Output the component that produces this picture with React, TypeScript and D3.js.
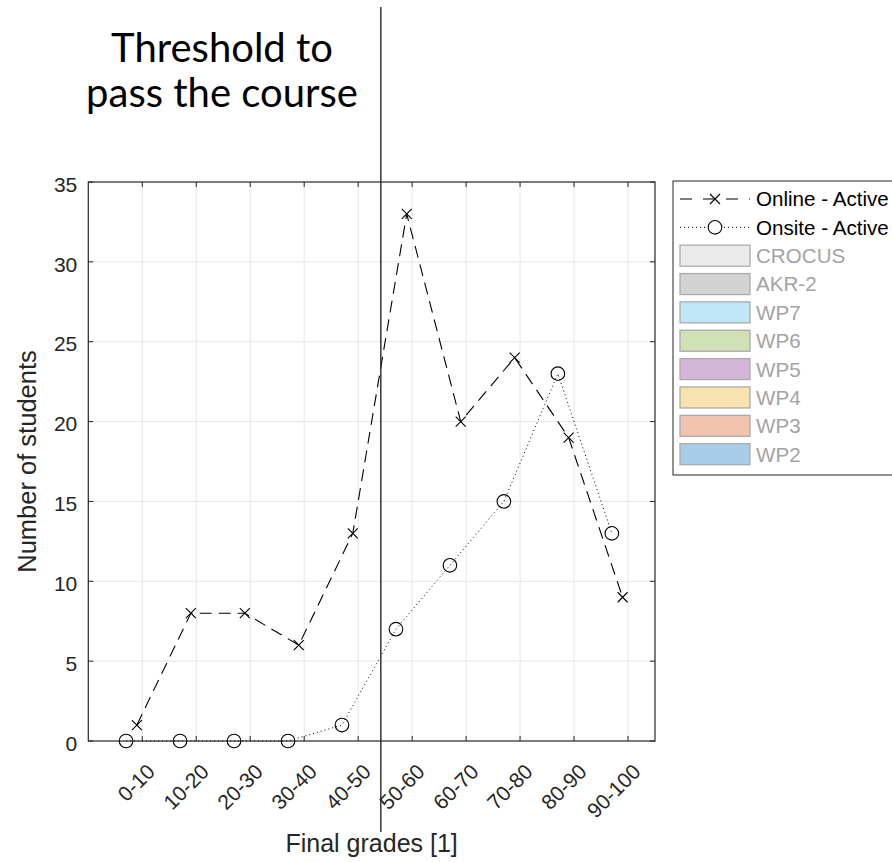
import React from 'react';
import * as d3 from 'd3';

const categories = ['0-10', '10-20', '20-30', '30-40', '40-50', '50-60', '60-70', '70-80', '80-90', '90-100'];
const onlineActive = [1, 8, 8, 6, 13, 33, 20, 24, 19, 9];
const onsiteActive = [0, 0, 0, 0, 1, 7, 11, 15, 23, 13];
const yTicks = [0, 5, 10, 15, 20, 25, 30, 35];
const lineSeriesNames = ['Online - Active', 'Onsite - Active'];
const patchNames = ['CROCUS', 'AKR-2', 'WP7', 'WP6', 'WP5', 'WP4', 'WP3', 'WP2'];
const patchColors = ['#ebebeb', '#d3d3d3', '#c0e7f8', '#d0e2b5', '#d3b6d8', '#f8e2b0', '#f2c3ad', '#a7cde8'];
const titleLines = ['Threshold to', 'pass the course'];
const thresholdValue = 5.42;
const onlineShift = -0.1;
const onsiteShift = -0.3;
const xLabel = 'Final grades [1]';
const yLabel = 'Number of students';

const W = 892;
const H = 862;
const M = { left: 88.3, right: 655, top: 182, bottom: 741 };
const AX = '#262626';
const FONT = '"Liberation Sans", Arial, Helvetica, sans-serif';

export default function App() {
  const x = d3.scaleLinear().domain([0, categories.length + 0.5]).range([M.left, M.right]);
  const y = d3.scaleLinear().domain([0, 35]).range([M.bottom, M.top]);
  const xTickVals = categories.map((_, i) => i + 1);

  const onlinePts: [number, number][] = onlineActive.map((v, i) => [x(i + 1 + onlineShift), y(v)]);
  const onsitePts: [number, number][] = onsiteActive.map((v, i) => [x(i + 1 + onsiteShift), y(v)]);
  const line = d3.line<[number, number]>().x(d => d[0]).y(d => d[1]);

  const cross = (cx: number, cy: number, s: number, key: any) => (
    <path key={key} d={`M${cx - s},${cy - s}L${cx + s},${cy + s}M${cx - s},${cy + s}L${cx + s},${cy - s}`} stroke="#000" strokeWidth={1.1} fill="none" />
  );

  const legX = 673;
  const legTop = 181;
  const rowH = 28.35;
  const row0 = 199;
  const sampleX0 = 680;
  const sampleX1 = 750;
  const textX = 756;

  return (
    <svg width={W} height={H} style={{ position: 'absolute', left: 0, top: 0, background: '#fff' }} fontFamily={FONT}>
      <rect x={0} y={0} width={W} height={H} fill="#fff" />
      {/* grid */}
      {xTickVals.map(v => (
        <line key={'gx' + v} x1={x(v)} x2={x(v)} y1={M.top} y2={M.bottom} stroke="#e6e6e6" strokeWidth={1} />
      ))}
      {yTicks.slice(1, -1).map(v => (
        <line key={'gy' + v} x1={M.left} x2={M.right} y1={y(v)} y2={y(v)} stroke="#e6e6e6" strokeWidth={1} />
      ))}
      {/* ticks */}
      {xTickVals.map(v => (
        <g key={'tx' + v}>
          <line x1={x(v)} x2={x(v)} y1={M.bottom} y2={M.bottom - 5} stroke={AX} strokeWidth={1} />
          <line x1={x(v)} x2={x(v)} y1={M.top} y2={M.top + 5} stroke={AX} strokeWidth={1} />
        </g>
      ))}
      {yTicks.map(v => (
        <g key={'ty' + v}>
          <line x1={M.left} x2={M.left + 5} y1={y(v)} y2={y(v)} stroke={AX} strokeWidth={1} />
          <line x1={M.right} x2={M.right - 5} y1={y(v)} y2={y(v)} stroke={AX} strokeWidth={1} />
          <text x={M.left - 11} y={y(v)} dy="0.46em" textAnchor="end" fontSize={21} fill={AX}>{v}</text>
        </g>
      ))}
      {categories.map((c, i) => (
        <text key={'xl' + i} transform={`translate(${x(i + 1) + 14},${M.bottom + 32}) rotate(-45)`} textAnchor="end" fontSize={21} fill={AX}>{c}</text>
      ))}
      {/* box */}
      <rect x={M.left} y={M.top} width={M.right - M.left} height={M.bottom - M.top} fill="none" stroke={AX} strokeWidth={1.2} />
      {/* series */}
      <path d={line(onsitePts) || ''} fill="none" stroke="#000" strokeWidth={1} strokeDasharray="1,3" />
      {onsitePts.map((p, i) => (
        <circle key={'c' + i} cx={p[0]} cy={p[1]} r={6.8} fill="none" stroke="#000" strokeWidth={1.1} />
      ))}
      <path d={line(onlinePts) || ''} fill="none" stroke="#000" strokeWidth={1.1} strokeDasharray="12,7" />
      {onlinePts.map((p, i) => cross(p[0], p[1], 5, 'x' + i))}
      {/* threshold */}
      <line x1={x(thresholdValue)} x2={x(thresholdValue)} y1={7} y2={832} stroke={AX} strokeWidth={1.4} />
      {/* axis labels */}
      <text x={(M.left + M.right) / 2} y={852} textAnchor="middle" fontSize={25} fill={AX}>{xLabel}</text>
      <text transform={`translate(36,${(M.top + M.bottom) / 2}) rotate(-90)`} textAnchor="middle" fontSize={25.5} fill={AX}>{yLabel}</text>
      {/* title */}
      {titleLines.map((t, i) => (
        <text key={'t' + i} x={222} y={61.7 + i * 45} textAnchor="middle" fontSize={40} fontFamily="Lato, 'Open Sans', sans-serif" fill="#000">{t}</text>
      ))}
      {/* legend */}
      <rect x={legX} y={legTop} width={W - legX + 10} height={475 - legTop} fill="#fff" stroke={AX} strokeWidth={1} />
      <line x1={sampleX0} x2={sampleX1} y1={row0} y2={row0} stroke="#000" strokeWidth={1.1} strokeDasharray="12,11" />
      {cross((sampleX0 + sampleX1) / 2, row0, 5, 'lx')}
      <text x={textX} y={row0} dy="0.36em" fontSize={20.6} fill="#000">{lineSeriesNames[0]}</text>
      <line x1={sampleX0} x2={sampleX1} y1={row0 + rowH} y2={row0 + rowH} stroke="#000" strokeWidth={1} strokeDasharray="1,3" />
      <circle cx={(sampleX0 + sampleX1) / 2} cy={row0 + rowH} r={6.8} fill="#fff" stroke="#000" strokeWidth={1.1} />
      <text x={textX} y={row0 + rowH} dy="0.36em" fontSize={20.6} fill="#000">{lineSeriesNames[1]}</text>
      {patchNames.map((n, i) => {
        const cy = row0 + rowH * (i + 2);
        return (
          <g key={'p' + i}>
            <rect x={sampleX0} y={cy - 10.5} width={sampleX1 - sampleX0} height={21} fill={patchColors[i]} stroke="#ababab" strokeWidth={1.3} />
            <text x={textX} y={cy} dy="0.36em" fontSize={20.6} fill="#a3a3a3">{n}</text>
          </g>
        );
      })}
    </svg>
  );
}
